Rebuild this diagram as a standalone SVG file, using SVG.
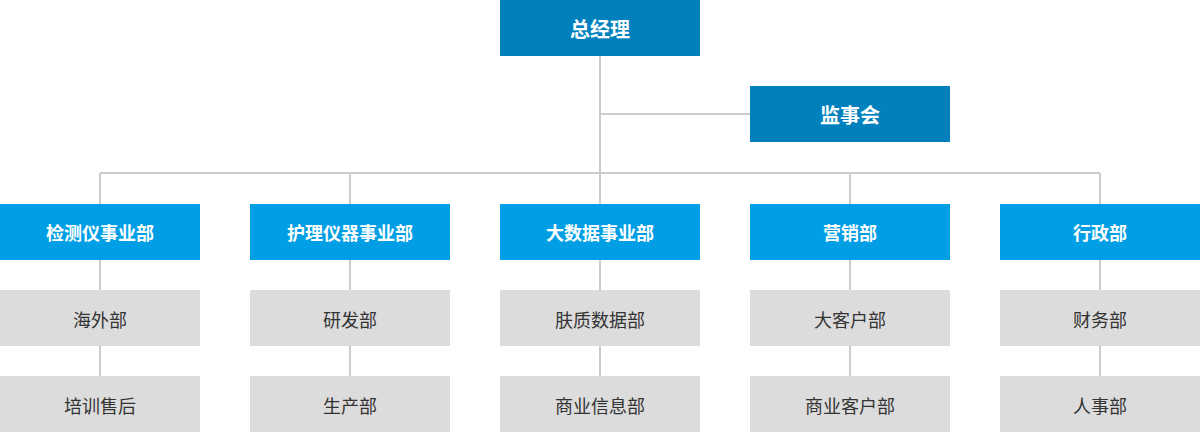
<svg xmlns="http://www.w3.org/2000/svg" width="1200" height="432" viewBox="0 0 1200 432">
<style>
.top{fill:#0081bd}
.l2{fill:#009fe5}
.l3{fill:#dcdcdc}
.tw{fill:#ffffff;font-family:"Noto Sans CJK SC","Noto Sans",sans-serif;font-size:18px;font-weight:bold;text-anchor:middle;dominant-baseline:central}
.tt{font-size:20px}
.td{fill:#333333;font-family:"Noto Sans CJK SC","Noto Sans",sans-serif;font-size:18px;text-anchor:middle;dominant-baseline:central}
.ln{stroke:#cccccc;stroke-width:2;fill:none}
</style>
<g id="connectors">
<path class="ln" d="M600 56V204M600 114H750M100 173H1100M100 173V204M350 173V204M850 173V204M1100 173V204"/>
<path class="ln" d="M100 260V290M100 346V376M350 260V290M350 346V376M600 260V290M600 346V376M850 260V290M850 346V376M1100 260V290M1100 346V376"/>
</g>
<g id="n-zjl"><rect class="top" x="500" y="0" width="200" height="56"/><text class="tw tt" x="600" y="28">总经理</text></g>
<g id="n-jsh"><rect class="top" x="750" y="86" width="200" height="56"/><text class="tw tt" x="850" y="114">监事会</text></g>
<g id="n-jcy"><rect class="l2" x="0" y="204" width="200" height="56"/><text class="tw" x="100" y="232">检测仪事业部</text></g>
<g id="n-hlyq"><rect class="l2" x="250" y="204" width="200" height="56"/><text class="tw" x="350" y="232">护理仪器事业部</text></g>
<g id="n-dsj"><rect class="l2" x="500" y="204" width="200" height="56"/><text class="tw" x="600" y="232">大数据事业部</text></g>
<g id="n-yx"><rect class="l2" x="750" y="204" width="200" height="56"/><text class="tw" x="850" y="232">营销部</text></g>
<g id="n-xz"><rect class="l2" x="1000" y="204" width="200" height="56"/><text class="tw" x="1100" y="232">行政部</text></g>
<g id="n-hw"><rect class="l3" x="0" y="290" width="200" height="56"/><text class="td" x="100" y="319">海外部</text></g>
<g id="n-px"><rect class="l3" x="0" y="376" width="200" height="56"/><text class="td" x="100" y="405">培训售后</text></g>
<g id="n-yf"><rect class="l3" x="250" y="290" width="200" height="56"/><text class="td" x="350" y="319">研发部</text></g>
<g id="n-sc"><rect class="l3" x="250" y="376" width="200" height="56"/><text class="td" x="350" y="405">生产部</text></g>
<g id="n-fz"><rect class="l3" x="500" y="290" width="200" height="56"/><text class="td" x="600" y="319">肤质数据部</text></g>
<g id="n-syxx"><rect class="l3" x="500" y="376" width="200" height="56"/><text class="td" x="600" y="405">商业信息部</text></g>
<g id="n-dkh"><rect class="l3" x="750" y="290" width="200" height="56"/><text class="td" x="850" y="319">大客户部</text></g>
<g id="n-sykh"><rect class="l3" x="750" y="376" width="200" height="56"/><text class="td" x="850" y="405">商业客户部</text></g>
<g id="n-cw"><rect class="l3" x="1000" y="290" width="200" height="56"/><text class="td" x="1100" y="319">财务部</text></g>
<g id="n-rs"><rect class="l3" x="1000" y="376" width="200" height="56"/><text class="td" x="1100" y="405">人事部</text></g>
</svg>
